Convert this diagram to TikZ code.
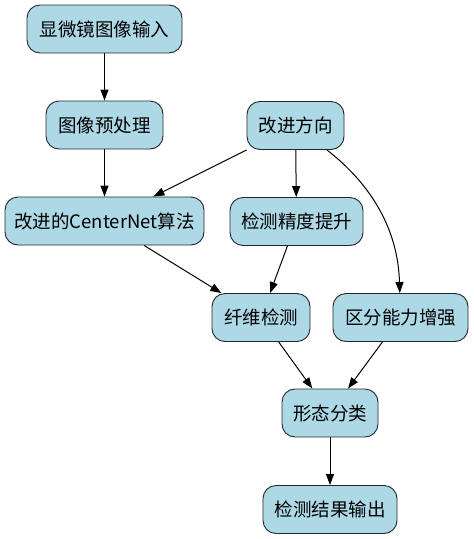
\documentclass[tikz,border=0pt]{standalone}
\usepackage{fontspec}
\setmainfont{Noto Sans CJK SC}
\usetikzlibrary{arrows.meta}
\begin{document}
\begin{tikzpicture}[x=1pt,y=-1pt,
  box/.style={draw=black!85, line width=0.9pt, fill=lightblue, rounded corners=13pt,
    minimum height=48pt, inner sep=0pt, font=\fontsize{18.5}{21}\selectfont, text=black},
  arr/.style={line width=1pt, -{Triangle[length=11pt,width=8pt]}}]
\definecolor{lightblue}{HTML}{ADD8E6}
\useasboundingbox (0,0) rectangle (474,539);
\node[box, minimum width=155pt] (n1) at (104.5,29) {显微镜图像输入};
\node[box, minimum width=117pt] (n2) at (104.5,125) {图像预处理};
\node[box, minimum width=97pt] (n3) at (295.5,125.5) {改进方向};
\node[box, minimum width=199pt] (n4) at (104.5,221) {改进的CenterNet算法};
\node[box, minimum width=133pt] (n5) at (296.5,221.5) {检测精度提升};
\node[box, minimum width=98pt] (n6) at (261,317.5) {纤维检测};
\node[box, minimum width=135pt] (n7) at (400.5,317.5) {区分能力增强};
\node[box, minimum width=96pt] (n8) at (330,413) {形态分类};
\node[box, minimum width=134pt] (n9) at (330,509.5) {检测结果输出};
\draw[arr] (n1) -- (n2);
\draw[arr] (n2) -- (n4);
\draw[arr] (n3) -- (n4);
\draw[arr] (n3) -- (n5);
\draw[arr] (n3) .. controls (372,185) and (398,230) .. (n7);
\draw[arr] (n4) -- (n6);
\draw[arr] (n5) -- (n6);
\draw[arr] (n6) -- (n8);
\draw[arr] (n7) -- (n8);
\draw[arr] (n8) -- (n9);
\end{tikzpicture}
\end{document}
